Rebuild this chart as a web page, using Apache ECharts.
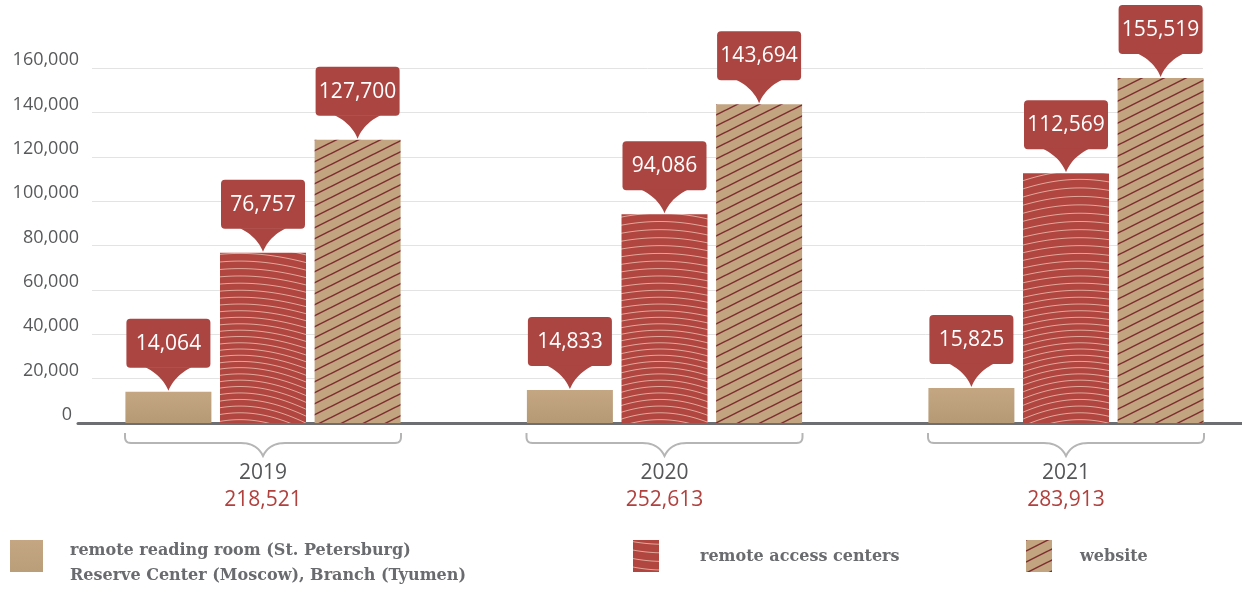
<!DOCTYPE html>
<html><head><meta charset="utf-8">
<script src="https://cdn.jsdelivr.net/npm/echarts@6.0.0/dist/echarts.min.js"></script>
<style>html,body{margin:0;padding:0;background:#fff}#c{width:1242px;height:592px}</style>
</head><body><div id="c"></div>
<script>
// ---- data ----
const years = ['2019', '2020', '2021'];
const totals = ['218,521', '252,613', '283,913'];
const readingRoom = [14064, 14833, 15825];
const accessCenters = [76757, 94086, 112569];
const website = [127700, 143694, 155519];
const seriesNames = [
  'remote reading room (St. Petersburg)\nReserve Center (Moscow), Branch (Tyumen)',
  'remote access centers',
  'website'
];
const yMin = 0, yMax = 160000, yStep = 20000;

// ---- styles ----
const BAR_W = 86, BAR_GAP = '10%', BAR_STEP = 94.6;
const CALLOUT = '#ab4541';
const TAN = '#c2a580';

function fmt(v) { return Number(v).toLocaleString('en-US'); }

// hatch pattern (website)
function hatchPattern() {
  const w = 22, h = 11;
  const cv = document.createElement('canvas');
  cv.width = w; cv.height = h;
  const ctx = cv.getContext('2d');
  ctx.fillStyle = TAN; ctx.fillRect(0, 0, w, h);
  ctx.strokeStyle = '#7d2e2e'; ctx.lineWidth = 1.5;
  for (const off of [-h, 0, h]) {
    ctx.beginPath(); ctx.moveTo(0, h + off); ctx.lineTo(w, off); ctx.stroke();
  }
  return { image: cv, repeat: 'repeat' };
}
// wavy pattern (remote access centers)
function wavePattern() {
  const W = 1242, H = 600;
  const cv = document.createElement('canvas');
  cv.width = W; cv.height = H;
  const ctx = cv.getContext('2d');
  ctx.fillStyle = '#b0463f'; ctx.fillRect(0, 0, W, H);
  ctx.strokeStyle = 'rgba(238,190,176,0.8)'; ctx.lineWidth = 1;
  for (let k = -20; k < 110; k++) {
    ctx.beginPath();
    const amp = 30 + 10 * Math.sin(k * 0.12);
    for (let x = 0; x <= W; x += 2) {
      const y = k * 7.4 - amp * Math.cos(2 * Math.PI * (x - 660) / 420);
      if (x === 0) ctx.moveTo(x, y); else ctx.lineTo(x, y);
    }
    ctx.stroke();
  }
  return { image: cv, repeat: 'no-repeat' };
}
const tanGradient = new echarts.graphic.LinearGradient(0, 0, 0, 1, [
  { offset: 0, color: '#c4a782' }, { offset: 1, color: '#b59975' }
]);

function quadPts(p0, c, p1, n) {
  const pts = [];
  for (let i = 0; i <= n; i++) {
    const t = i / n, u = 1 - t;
    pts.push([u * u * p0[0] + 2 * u * t * c[0] + t * t * p1[0], u * u * p0[1] + 2 * u * t * c[1] + t * t * p1[1]]);
  }
  return pts;
}

function renderCallout(params, api) {
  const c = api.value(0), v = api.value(1), s = api.value(2);
  const p = api.coord([c, v]);
  const x = p[0] + (s - 1) * BAR_STEP;
  const y = p[1] - 1;
  const left = quadPts([-23, -23.5], [-6, -15], [0, 0], 12);
  const right = quadPts([0, 0], [6, -15], [23, -23.5], 12);
  return {
    type: 'group', x: x, y: y,
    children: [
      { type: 'rect', shape: { x: -42, y: -72, width: 84, height: 49, r: 4 }, style: { fill: CALLOUT } },
      { type: 'polygon', shape: { points: left.concat(right) }, style: { fill: CALLOUT } },
      { type: 'text', style: { text: fmt(v), x: 0, y: -47, align: 'center', verticalAlign: 'middle', fill: '#fff', font: '21px "Open Sans"' } }
    ]
  };
}

function renderBracket(params, api) {
  const c = api.value(0);
  const p = api.coord([c, 0]);
  const hw = 138;
  let pts = [];
  pts.push([-hw, 10]);
  pts = pts.concat(quadPts([-hw, 14], [-hw, 20], [-hw + 6, 20], 6));
  pts = pts.concat(quadPts([-22, 20], [-6, 20], [0, 33], 10));
  pts = pts.concat(quadPts([0, 33], [6, 20], [22, 20], 10));
  pts = pts.concat(quadPts([hw - 6, 20], [hw, 20], [hw, 14], 6));
  pts.push([hw, 10]);
  return {
    type: 'polyline', x: p[0], y: p[1], shape: { points: pts },
    style: { stroke: '#b5b5b5', lineWidth: 2, fill: null }
  };
}

const calloutData = [];
[readingRoom, accessCenters, website].forEach((arr, s) => arr.forEach((v, c) => calloutData.push([c, v, s])));

const legendText = { fontFamily: 'DejaVu Serif', fontWeight: 'bold', fontSize: 16, color: '#6a6b6e' };
// legend swatches: visible square at top, zero-area line below shifts the text relative to the swatch
const ICON_2LINE = 'path://M0,0 L33,0 L33,32 L0,32 Z M0,47 L33,47 Z';
const ICON_1LINE = 'path://M0,0 L26,0 L26,32 L0,32 Z M0,34 L26,34 Z';

const chart = echarts.init(document.getElementById('c'), null, { renderer: 'canvas' });
chart.setOption({
  animation: false,
  backgroundColor: '#fff',
  grid: [
    { left: 92, right: 39, top: 68, bottom: 169, outerBoundsMode: 'none', containLabel: false },
    { left: 263, right: 176, top: 68, bottom: 169, outerBoundsMode: 'none', containLabel: false },
    { left: 78, right: 0, top: 68, bottom: 169, outerBoundsMode: 'none', containLabel: false }
  ],
  xAxis: [
    { gridIndex: 0, type: 'value', show: false, min: 0, max: 1 },
    {
      gridIndex: 1, type: 'category', data: years, boundaryGap: false,
      axisLine: { show: false }, axisTick: { show: false }, splitLine: { show: false },
      axisLabel: {
        margin: 37, interval: 0,
        formatter: (v, i) => '{y|' + v + '}\n{t|' + totals[i] + '}',
        rich: {
          y: { fontFamily: 'Open Sans', fontSize: 21, color: '#555658', lineHeight: 27 },
          t: { fontFamily: 'Open Sans', fontSize: 21, color: '#b0413e', lineHeight: 27 }
        }
      }
    },
    {
      gridIndex: 2, type: 'value', min: 0, max: 1, position: 'bottom',
      axisLine: { show: true, onZero: false, lineStyle: { color: '#6d6e71', width: 3 } },
      axisTick: { show: false }, axisLabel: { show: false }, splitLine: { show: false }
    }
  ],
  yAxis: [
    {
      gridIndex: 0, type: 'value', min: yMin, max: yMax, interval: yStep,
      axisLine: { show: false }, axisTick: { show: false },
      splitLine: { lineStyle: { color: '#e3e3e3', width: 1 } },
      axisLabel: {
        margin: 13, verticalAlign: 'bottom', lineHeight: 16, fontFamily: 'Open Sans', fontSize: 18, color: '#58595b',
        formatter: v => v === 0 ? '{z|0}' : fmt(v),
        rich: { z: { fontFamily: 'Open Sans', fontSize: 18, lineHeight: 16, color: '#58595b', padding: [0, 7, 0, 0] } }
      }
    },
    { gridIndex: 1, type: 'value', min: yMin, max: yMax, show: false },
    { gridIndex: 2, type: 'value', min: yMin, max: yMax, show: false }
  ],
  legend: [
    {
      data: [{ name: seriesNames[0], icon: ICON_2LINE }], left: 10, top: 538.5, padding: 0, itemWidth: 33, itemHeight: 47,
      selectedMode: false,
      textStyle: Object.assign({}, legendText, { lineHeight: 25, padding: [0, 0, 0, 22] })
    },
    {
      data: [{ name: seriesNames[1], icon: ICON_1LINE }], left: 633, top: 540, padding: 0, itemWidth: 26, itemHeight: 34,
      selectedMode: false,
      textStyle: Object.assign({}, legendText, { padding: [0, 0, 0, 36] })
    },
    {
      data: [{ name: seriesNames[2], icon: ICON_1LINE }], left: 1026, top: 540, padding: 0, itemWidth: 26, itemHeight: 34,
      selectedMode: false,
      textStyle: Object.assign({}, legendText, { padding: [0, 0, 0, 23] })
    }
  ],
  series: [
    { name: seriesNames[0], type: 'bar', xAxisIndex: 1, yAxisIndex: 1, data: readingRoom, barWidth: BAR_W, barGap: BAR_GAP, clip: false, itemStyle: { color: tanGradient } },
    { name: seriesNames[1], type: 'bar', xAxisIndex: 1, yAxisIndex: 1, data: accessCenters, barWidth: BAR_W, barGap: BAR_GAP, clip: false, itemStyle: { color: wavePattern() } },
    { name: seriesNames[2], type: 'bar', xAxisIndex: 1, yAxisIndex: 1, data: website, barWidth: BAR_W, barGap: BAR_GAP, clip: false, itemStyle: { color: hatchPattern() } },
    { type: 'custom', xAxisIndex: 1, yAxisIndex: 1, data: years.map((y, i) => [i, 0]), renderItem: renderBracket, silent: true, z: 3 },
    { type: 'custom', xAxisIndex: 1, yAxisIndex: 1, data: calloutData, renderItem: renderCallout, silent: true, z: 5 }
  ]
});
</script>
</body></html>
